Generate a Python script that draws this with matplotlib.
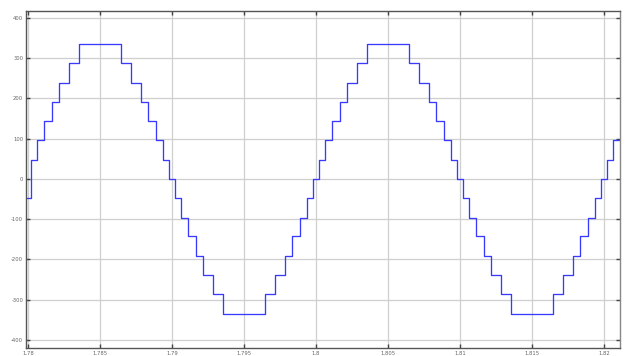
import matplotlib
matplotlib.use("Agg")
import matplotlib.pyplot as plt

# switching instants (ms after t = 1.78 s) and the level reached after each switch
switch_ms = [0.2, 0.64, 1.13, 1.66, 2.18, 2.84, 3.54, 6.46, 7.16, 7.82, 8.34, 8.87, 9.36, 9.8,
             10.2, 10.64, 11.13, 11.66, 12.18, 12.84, 13.54, 16.46, 17.16, 17.82, 18.34, 18.87, 19.36, 19.8,
             20.2, 20.64, 21.13, 21.66, 22.18, 22.84, 23.54, 26.46, 27.16, 27.82, 28.34, 28.87, 29.36, 29.8,
             30.2, 30.64, 31.13, 31.66, 32.18, 32.84, 33.54, 36.46, 37.16, 37.82, 38.34, 38.87, 39.36, 39.8,
             40.2, 40.64]
levels = [48, 96, 143, 191, 239, 287, 335, 287, 239, 191, 143, 96, 48, 0,
          -48, -96, -143, -191, -239, -287, -335, -287, -239, -191, -143, -96, -48, 0,
          48, 96, 143, 191, 239, 287, 335, 287, 239, 191, 143, 96, 48, 0,
          -48, -96, -143, -191, -239, -287, -335, -287, -239, -191, -143, -96, -48, 0,
          48, 96]
start_level = -48
t0 = 1.78

xticks = [1.78, 1.785, 1.79, 1.795, 1.8, 1.805, 1.81, 1.815, 1.82]
xtick_labels = ["1.78", "1.785", "1.79", "1.795", "1.8", "1.805", "1.81", "1.815", "1.82"]
yticks = [-400, -300, -200, -100, 0, 100, 200, 300, 400]
ytick_labels = ["-400", "-300", "-200", "-100", "0", "100", "200", "300", "400"]

t = [t0 - 0.0003] + [t0 + m / 1000 for m in switch_ms] + [t0 + 0.0412]
v = [start_level] + levels + [levels[-1]]

fig = plt.figure(figsize=(6.25, 3.56), dpi=100)
ax = fig.add_axes([26 / 625, 1 - 348 / 356, (620 - 26) / 625, (348 - 11) / 356])
ax.plot(t, v, drawstyle="steps-post", color="#3a3aff", lw=0.95)

ax.set_xlim(1.77986, 1.82111)
ax.set_ylim(-420, 417)
ax.set_xticks(xticks)
ax.set_xticklabels(xtick_labels)
ax.set_yticks(yticks)
ax.set_yticklabels(ytick_labels)
ax.grid(True, color="#cfcfcf", lw=0.9)
ax.set_axisbelow(True)
ax.tick_params(direction="in", length=3, width=1, color="#444444", labelsize=3.8,
               labelcolor="#666666", top=True, right=True, pad=2)
for side, c in [("left", "#555555"), ("bottom", "#555555"), ("top", "#555555"), ("right", "#888888")]:
    ax.spines[side].set_color(c)
    ax.spines[side].set_linewidth(1.0)

fig.savefig("out.png", dpi=100, facecolor="white")
